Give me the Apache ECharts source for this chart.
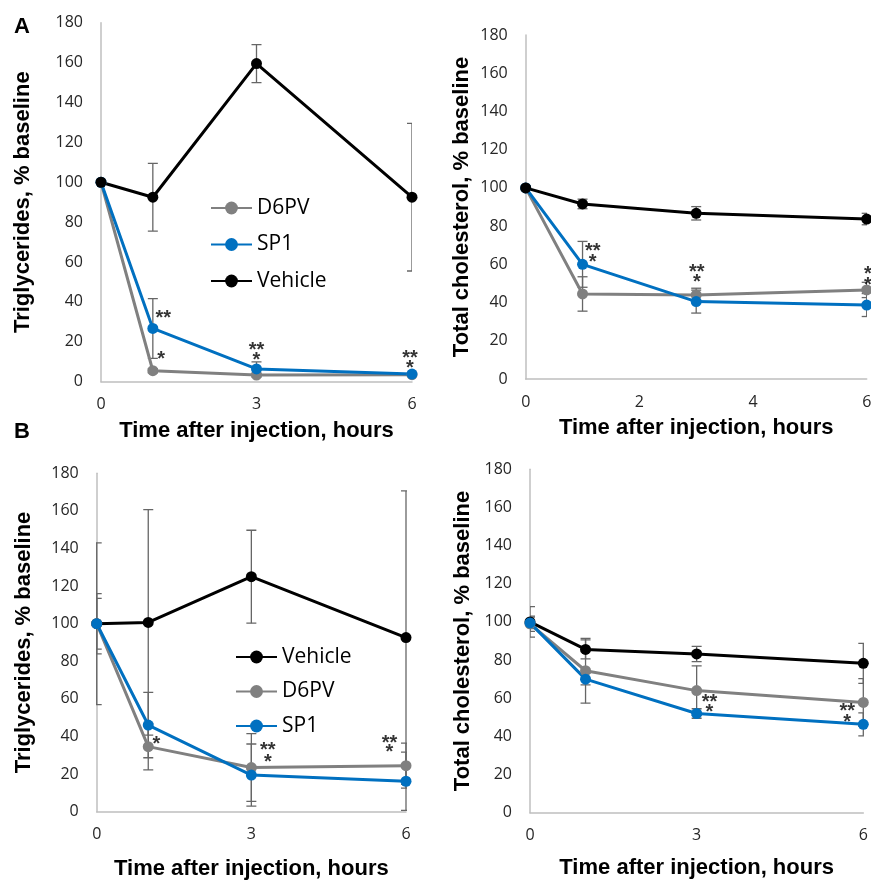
<!DOCTYPE html>
<html>
<head>
<meta charset="utf-8">
<script src="https://cdn.jsdelivr.net/npm/echarts@6/dist/echarts.min.js"></script>
<style>
  html, body { margin: 0; padding: 0; background: #fff; }
  #main { width: 871px; height: 881px; }
</style>
</head>
<body>
<div id="main"></div>
<script>
var hours = [0, 1, 3, 6];

// A, triglycerides
var aTgD6PV = [100, 5.5, 3.3, 3.5];
var aTgD6PVErr = [0, 1, 1, 0.5];
var aTgSP1 = [100, 26.7, 6.4, 3.8];
var aTgSP1Err = [0, 15, 3.5, 0.8];
var aTgVehicle = [100, 92.5, 159.5, 92.5];
var aTgVehicleErr = [0, 17, 9.5, 37];
var aTgStars = [[1.2, 34.3, '**'], [1.16, 13.4, '*'], [3, 18.4, '**'], [3, 12.9, '*'], [5.96, 13.9, '**'], [5.96, 8.9, '*']];

// A, total cholesterol
var aChD6PV = [100, 44.5, 44, 46.6];
var aChD6PVErr = [0, 9, 3.5, 4];
var aChSP1 = [100, 60, 40.5, 38.7];
var aChSP1Err = [0, 12, 6, 6];
var aChVehicle = [100, 91.6, 86.7, 83.7];
var aChVehicleErr = [0, 2.5, 3.5, 3];
var aChStars = [[1.18, 69.1, '**'], [1.18, 63.8, '*'], [3.01, 58.1, '**'], [3.01, 52.9, '*'], [6.09, 57.4, '**'], [6.02, 51.8, '*']];

// B, triglycerides
var bTgVehicle = [100, 100.7, 125, 92.6];
var bTgVehicleErr = [43, 60, 24.7, 78];
var bTgD6PV = [100, 34.6, 23.5, 24.5];
var bTgD6PVErr = [16, 12.4, 18, 12];
var bTgSP1 = [100, 46.1, 19.5, 16.2];
var bTgSP1Err = [13.5, 17.4, 16.5, 15.5];
var bTgStars = [[1.16, 38.2, '*'], [3.32, 35, '**'], [3.32, 29.1, '*'], [5.68, 39.2, '**'], [5.68, 33.9, '*']];

// B, total cholesterol
var bChVehicle = [100, 85.6, 83.2, 78.3];
var bChVehicleErr = [8, 5, 4, 10.5];
var bChD6PV = [99, 74.4, 64, 57.8];
var bChD6PVErr = [4, 17, 13, 12.5];
var bChSP1 = [99.5, 70, 52, 46.3];
var bChSP1Err = [3, 3, 2.5, 6];
var bChStars = [[3.23, 60.6, '**'], [3.23, 55.1, '*'], [5.71, 55.7, '**'], [5.71, 50.1, '*']];

var colors = { 'Vehicle': '#000000', 'D6PV': '#808080', 'SP1': '#0070c0' };
var titleFont = 'Liberation Sans';
var tickFont = 'Open Sans';

function pairs(ys) {
  return hours.map(function (h, i) { return [h, ys[i]]; });
}
function errData(ys, es) {
  var out = [];
  for (var i = 0; i < hours.length; i++) {
    if (es[i] > 0) out.push([hours[i], ys[i], es[i]]);
  }
  return out;
}

function renderErr(params, api) {
  var x = api.value(0), y = api.value(1), e = api.value(2);
  var top = api.coord([x, y + e]);
  var bot = api.coord([x, y - e]);
  var w = 5;
  var st = { stroke: '#666666', lineWidth: 1.3 };
  return {
    type: 'group',
    children: [
      { type: 'line', shape: { x1: top[0], y1: top[1], x2: bot[0], y2: bot[1] }, style: st },
      { type: 'line', shape: { x1: top[0] - w, y1: top[1], x2: top[0] + w, y2: top[1] }, style: st },
      { type: 'line', shape: { x1: bot[0] - w, y1: bot[1], x2: bot[0] + w, y2: bot[1] }, style: st }
    ]
  };
}

var series = [];
function addPanel(idx, list, stars) {
  list.forEach(function (s) {
    series.push({
      type: 'custom',
      xAxisIndex: idx, yAxisIndex: idx,
      renderItem: renderErr,
      encode: { x: 0, y: 1 },
      clip: true,
      z: 1,
      silent: true,
      data: errData(s.ys, s.err)
    });
  });
  list.forEach(function (s) {
    series.push({
      name: s.name,
      type: 'line',
      xAxisIndex: idx, yAxisIndex: idx,
      data: pairs(s.ys),
      symbol: 'circle',
      symbolSize: 11,
      clip: false,
      z: 2,
      lineStyle: { color: colors[s.name], width: 3 },
      itemStyle: { color: colors[s.name] }
    });
  });
  series.push({
    type: 'scatter',
    xAxisIndex: idx, yAxisIndex: idx,
    data: stars,
    symbol: 'circle',
    symbolSize: 1,
    clip: false,
    silent: true,
    z: 3,
    itemStyle: { color: 'rgba(0,0,0,0)' },
    label: {
      show: true,
      position: 'inside',
      offset: [0, 5],
      formatter: function (p) { return p.data[2]; },
      fontFamily: titleFont,
      fontWeight: 'bold',
      fontSize: 20,
      color: '#000'
    }
  });
}

addPanel(0, [
  { name: 'D6PV', ys: aTgD6PV, err: aTgD6PVErr },
  { name: 'SP1', ys: aTgSP1, err: aTgSP1Err },
  { name: 'Vehicle', ys: aTgVehicle, err: aTgVehicleErr }
], aTgStars);
addPanel(1, [
  { name: 'D6PV', ys: aChD6PV, err: aChD6PVErr },
  { name: 'SP1', ys: aChSP1, err: aChSP1Err },
  { name: 'Vehicle', ys: aChVehicle, err: aChVehicleErr }
], aChStars);
addPanel(2, [
  { name: 'Vehicle', ys: bTgVehicle, err: bTgVehicleErr },
  { name: 'D6PV', ys: bTgD6PV, err: bTgD6PVErr },
  { name: 'SP1', ys: bTgSP1, err: bTgSP1Err }
], bTgStars);
addPanel(3, [
  { name: 'Vehicle', ys: bChVehicle, err: bChVehicleErr },
  { name: 'D6PV', ys: bChD6PV, err: bChD6PVErr },
  { name: 'SP1', ys: bChSP1, err: bChSP1Err }
], bChStars);

var grids = [
  { left: 101, top: 22.7, width: 311, height: 359 },
  { left: 525.7, top: 35, width: 341, height: 344 },
  { left: 96.7, top: 473.3, width: 309.3, height: 338.4 },
  { left: 530, top: 469.3, width: 333.3, height: 343.4 }
].map(function (g) { g.outerBoundsMode = 'none'; g.containLabel = false; return g; });

var xSteps = [3, 2, 3, 3];
var xGaps = [38, 38, 46, 44];
var yNames = ['Triglycerides, % baseline', 'Total cholesterol, % baseline', 'Triglycerides, % baseline', 'Total cholesterol, % baseline'];
var yGaps = [67, 53, 62, 56];

var axisLine = { show: true, lineStyle: { color: '#bfbfbf', width: 1.5 } };
var nameStyle = { fontFamily: titleFont, fontWeight: 'bold', fontSize: 22, color: '#000' };
var labelStyle = { fontFamily: tickFont, fontSize: 16, color: '#262626' };

var xAxes = grids.map(function (g, i) {
  return {
    type: 'value', gridIndex: i, min: 0, max: 6, interval: xSteps[i],
    name: 'Time after injection, hours', nameLocation: 'middle', nameGap: xGaps[i],
    nameTextStyle: nameStyle,
    axisLine: axisLine, axisTick: { show: false }, splitLine: { show: false },
    axisLabel: Object.assign({ margin: 15 }, labelStyle)
  };
});
var yAxes = grids.map(function (g, i) {
  return {
    type: 'value', gridIndex: i, min: 0, max: 180, interval: 20,
    name: yNames[i], nameLocation: 'middle', nameGap: yGaps[i],
    nameTextStyle: nameStyle,
    axisLine: axisLine, axisTick: { show: false }, splitLine: { show: false },
    axisLabel: Object.assign({ margin: 18 }, labelStyle)
  };
});

var legendText = { fontFamily: tickFont, fontSize: 21, color: '#000', lineHeight: 24 };

var myChart = echarts.init(document.getElementById('main'), null, { renderer: 'canvas' });
var option = {
  backgroundColor: '#fff',
  animation: false,
  grid: grids,
  xAxis: xAxes,
  yAxis: yAxes,
  legend: [
    {
      orient: 'vertical', left: 205, top: 191, itemGap: 12.5,
      itemWidth: 41, itemHeight: 16,
      data: ['D6PV', 'SP1', 'Vehicle'],
      textStyle: legendText, selectedMode: false
    },
    {
      orient: 'vertical', left: 230, top: 640, itemGap: 10.5,
      itemWidth: 41, itemHeight: 16,
      data: ['Vehicle', 'D6PV', 'SP1'],
      textStyle: legendText, selectedMode: false
    }
  ],
  graphic: [
    { type: 'text', left: 14, top: 16, style: { text: 'A', fontFamily: titleFont, fontWeight: 'bold', fontSize: 22, fill: '#000' } },
    { type: 'text', left: 14, top: 421, style: { text: 'B', fontFamily: titleFont, fontWeight: 'bold', fontSize: 22, fill: '#000' } }
  ],
  series: series
};
myChart.setOption(option);
</script>
</body>
</html>
